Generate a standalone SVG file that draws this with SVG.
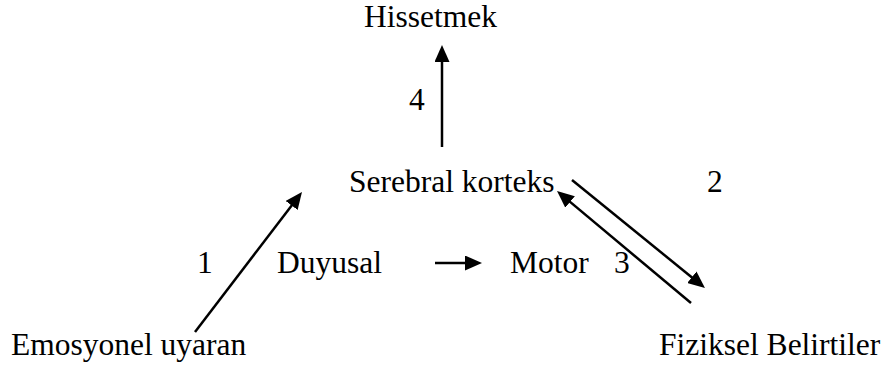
<svg xmlns="http://www.w3.org/2000/svg" width="888" height="372" viewBox="0 0 888 372">
<style>
text{font-family:"Liberation Serif","Times New Roman",serif;font-size:31.5px;fill:#000}
.c line{stroke:#000;stroke-width:2.5;fill:none}
</style>
<defs>
<marker id="ah" markerUnits="userSpaceOnUse" markerWidth="17" markerHeight="15" refX="7" refY="7.5" orient="auto" viewBox="0 0 17 15">
<path d="M0,0 L17,7.5 L0,15 z" fill="#000"/>
</marker>
</defs>
<rect width="888" height="372" fill="#fff"/>
<g class="c" id="connectors">
<line x1="442" y1="147" x2="442" y2="55" marker-end="url(#ah)"/>
<line x1="195" y1="332" x2="295.9" y2="199.9" marker-end="url(#ah)"/>
<line x1="435" y1="263" x2="472" y2="263" marker-end="url(#ah)"/>
<line x1="572" y1="180" x2="697.2" y2="281.7" marker-end="url(#ah)"/>
<line x1="691" y1="303" x2="564.7" y2="197.4" marker-end="url(#ah)"/>
</g>
<g id="hissetmek"><text x="364" y="27">Hissetmek</text></g>
<g id="serebral"><text x="349" y="192">Serebral korteks</text></g>
<g id="duyusal"><text x="277" y="273">Duyusal</text></g>
<g id="motor"><text x="510" y="273">Motor</text></g>
<g id="emosyonel"><text x="11" y="355">Emosyonel uyaran</text></g>
<g id="fiziksel"><text x="659" y="355">Fiziksel Belirtiler</text></g>
<g id="labels">
<text x="409" y="110">4</text>
<text x="197" y="273">1</text>
<text x="614" y="273">3</text>
<text x="707" y="192">2</text>
</g>
</svg>
